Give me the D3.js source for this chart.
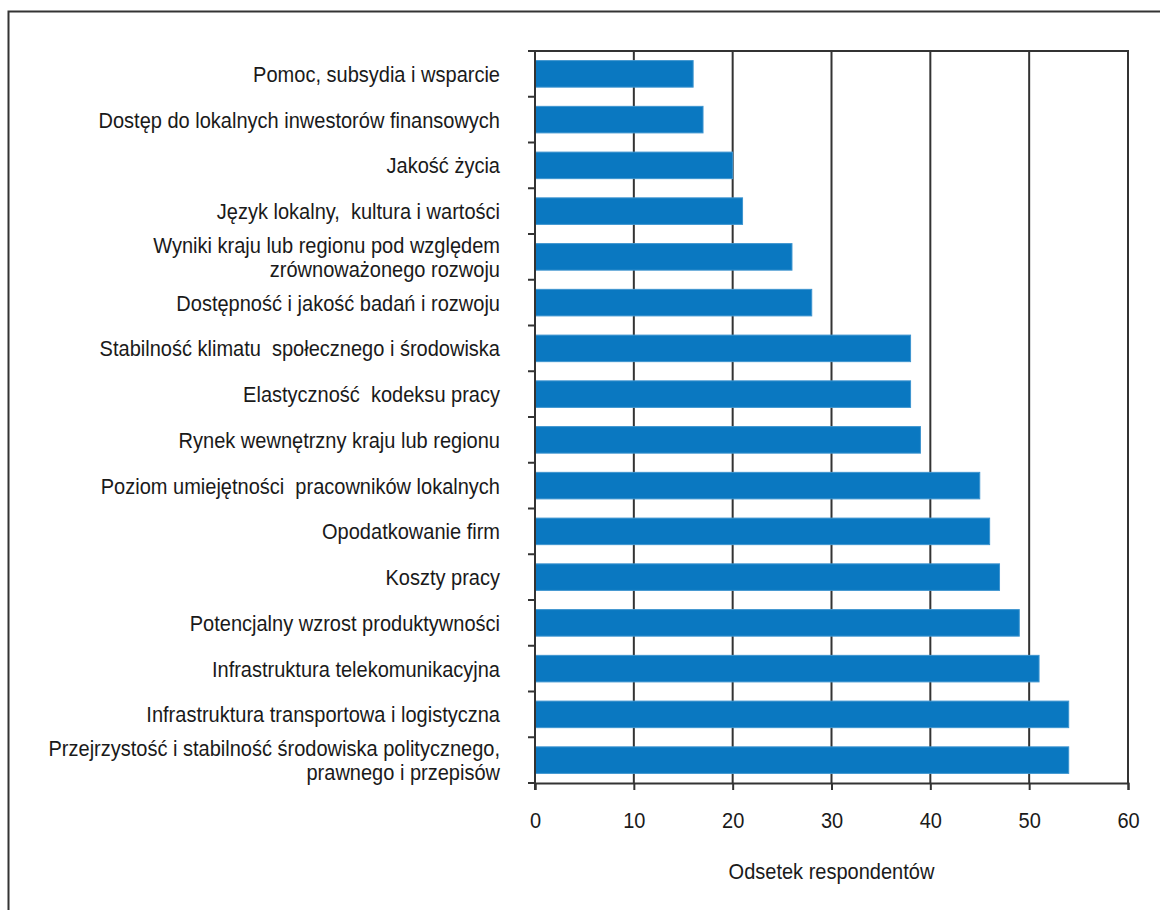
<!DOCTYPE html>
<html>
<head>
<meta charset="utf-8">
<script src="https://cdn.jsdelivr.net/npm/d3@7"></script>
<style>
  body { margin: 0; background: #fff; }
  svg text { font-family: "Liberation Sans Narrow", "Liberation Sans", Arial, sans-serif; fill: #1a1a1a; }
</style>
</head>
<body>
<div id="chart"></div>
<script>
// categories top to bottom, each label split into lines
var categories = [
    ["Pomoc, subsydia i wsparcie"],
    ["Dostęp do lokalnych inwestorów finansowych"],
    ["Jakość życia"],
    ["Język lokalny,  kultura i wartości"],
    ["Wyniki kraju lub regionu pod względem", "zrównoważonego rozwoju"],
    ["Dostępność i jakość badań i rozwoju"],
    ["Stabilność klimatu  społecznego i środowiska"],
    ["Elastyczność  kodeksu pracy"],
    ["Rynek wewnętrzny kraju lub regionu"],
    ["Poziom umiejętności  pracowników lokalnych"],
    ["Opodatkowanie firm"],
    ["Koszty pracy"],
    ["Potencjalny wzrost produktywności"],
    ["Infrastruktura telekomunikacyjna"],
    ["Infrastruktura transportowa i logistyczna"],
    ["Przejrzystość i stabilność środowiska politycznego,", "prawnego i przepisów"]
];
var values = [16, 17, 20, 21, 26, 28, 38, 38, 39, 45, 46, 47, 49, 51, 54, 54];
var xTicks = [0, 10, 20, 30, 40, 50, 60];
var xTitle = "Odsetek respondentów";

var w = 1160, h = 910;
var plotL = 535, plotR = 1128, plotT = 51, plotB = 783;
var fs = 22.5, squeeze = 0.89;   // narrow-looking font: bigger size, squeezed sideways
var lh = 24;

var svg = d3.select("#chart").append("svg")
    .attr("width", w)
    .attr("height", h);

// outer frame (runs off the page on right and bottom)
svg.append("rect")
    .attr("x", 8.5).attr("y", 11.5)
    .attr("width", 1160).attr("height", 910)
    .attr("fill", "none")
    .attr("stroke", "#333")
    .attr("stroke-width", 2);

var x = d3.scaleLinear().domain([0, 60]).range([plotL, plotR]);
var y = d3.scaleBand()
    .domain(d3.range(categories.length))
    .range([plotT, plotB])
    .paddingInner(0.42)
    .paddingOuter(0.21);

var bandStep = (plotB - plotT) / categories.length;

// gridlines
svg.append("g").selectAll("line")
    .data(xTicks.slice(1))
    .enter().append("line")
    .attr("x1", function (d) { return x(d); })
    .attr("x2", function (d) { return x(d); })
    .attr("y1", plotT).attr("y2", plotB)
    .attr("stroke", "#333").attr("stroke-width", 2);

// top border of plot area
svg.append("line")
    .attr("x1", plotL - 7).attr("x2", plotR + 1)
    .attr("y1", plotT).attr("y2", plotT)
    .attr("stroke", "#333").attr("stroke-width", 2);

// bars
svg.append("g").selectAll("rect")
    .data(values)
    .enter().append("rect")
    .attr("x", x(0))
    .attr("y", function (d, i) { return y(i); })
    .attr("width", function (d) { return x(d) - x(0); })
    .attr("height", y.bandwidth())
    .attr("fill", "#0a78c1")
    .attr("stroke", "#3d94cf")
    .attr("stroke-width", 1);

// y axis with ticks at band boundaries
var yAxisG = svg.append("g");
yAxisG.append("line")
    .attr("x1", plotL).attr("x2", plotL)
    .attr("y1", plotT).attr("y2", plotB + 7)
    .attr("stroke", "#333").attr("stroke-width", 2);
yAxisG.selectAll("line.tick")
    .data(d3.range(categories.length + 1))
    .enter().append("line")
    .attr("class", "tick")
    .attr("x1", plotL - 7).attr("x2", plotL)
    .attr("y1", function (d) { return plotT + d * bandStep; })
    .attr("y2", function (d) { return plotT + d * bandStep; })
    .attr("stroke", "#333").attr("stroke-width", 2);

// category labels
var labels = svg.append("g").selectAll("text")
    .data(categories)
    .enter().append("text")
    .attr("text-anchor", "end")
    .attr("font-size", fs)
    .attr("transform", function (d, i) {
        var cy = plotT + (i + 0.5) * bandStep;
        var y0 = cy - (d.length - 1) * lh / 2 + 8;
        return "translate(500," + y0 + ") scale(" + squeeze + ",1)";
    });
labels.each(function (d) {
    var t = d3.select(this);
    d.forEach(function (line, j) {
        t.append("tspan")
            .attr("x", 0)
            .attr("y", j * lh)
            .style("white-space", "pre")
            .text(line);
    });
});

// x axis
var xAxis = d3.axisBottom(x).tickValues(xTicks).tickSize(7).tickPadding(22);
var xg = svg.append("g")
    .attr("transform", "translate(0," + plotB + ")")
    .call(xAxis);
xg.select(".domain").attr("stroke", "#333").attr("stroke-width", 2);
xg.selectAll(".tick line").attr("stroke", "#333").attr("stroke-width", 2);
xg.selectAll(".tick text")
    .attr("font-size", fs)
    .attr("font-family", "'Liberation Sans Narrow', 'Liberation Sans', Arial, sans-serif")
    .attr("fill", "#1a1a1a")
    .attr("transform", "scale(" + squeeze + ",1)");

svg.append("text")
    .attr("text-anchor", "middle")
    .attr("font-size", fs)
    .attr("transform", "translate(" + ((plotL + plotR) / 2) + ",879) scale(" + squeeze + ",1)")
    .text(xTitle);
</script>
</body>
</html>
